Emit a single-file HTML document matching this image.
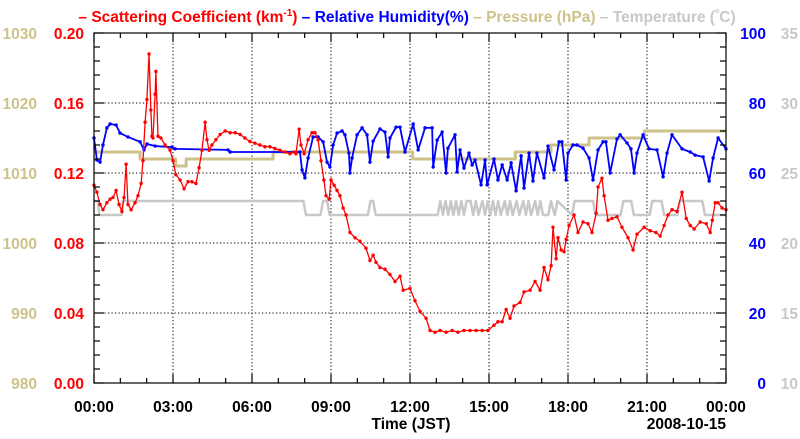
<!DOCTYPE html>
<html><head><meta charset="utf-8"><style>
body{margin:0;background:#fff;}
svg text{font-family:"Liberation Sans",sans-serif;font-weight:bold;}
</style></head><body>
<svg id="chart" width="800" height="434" xmlns="http://www.w3.org/2000/svg">
<text x="407" y="22" text-anchor="middle" font-size="15.5"><tspan fill="#ff0000">– Scattering Coefficient (km<tspan dy="-6" font-size="10">-1</tspan><tspan dy="6">) </tspan></tspan><tspan fill="#0000ff">– Relative Humidity(%) </tspan><tspan fill="#cdc38a">– Pressure (hPa) </tspan><tspan fill="#c8c8c8">– Temperature (<tspan dy="-9" font-size="7">o</tspan><tspan dy="9">C)</tspan></tspan></text>
<g id="grid"></g>
<g id="series"></g>
<rect x="94" y="33" width="632" height="350" fill="none" stroke="#000" stroke-width="1.2"/>
<g id="axes"></g>
<text x="411" y="429" text-anchor="middle" font-size="15.5">Time (JST)</text>
<text x="726" y="429" text-anchor="end" font-size="15.5">2008-10-15</text>
</svg>
<script>
const xTickLabels=["00:00","03:00","06:00","09:00","12:00","15:00","18:00","21:00","00:00"];
const scatTicks=["0.00","0.04","0.08","0.12","0.16","0.20"];
const presTicks=["980","990","1000","1010","1020","1030"];
const rhTicks=["0","20","40","60","80","100"];
const tempTicks=["10","15","20","25","30","35"];

const scatT=[0,.11,.23,.34,.49,.61,.72,.84,.95,1.06,1.14,1.22,1.29,1.41,1.56,1.67,1.79,1.86,1.94,2.01,2.09,2.16,2.20,2.24,2.32,2.35,2.43,2.54,2.70,2.89,3.00,3.11,3.27,3.42,3.57,3.72,3.87,3.99,4.10,4.22,4.29,4.37,4.48,4.63,4.79,4.98,5.17,5.36,5.55,5.73,5.92,6.11,6.30,6.49,6.68,6.87,7.06,7.25,7.44,7.60,7.67,7.79,7.86,7.98,8.13,8.28,8.39,8.51,8.62,8.73,8.81,8.93,9.00,9.12,9.23,9.34,9.46,9.57,9.72,9.91,10.10,10.33,10.48,10.60,10.71,10.86,11.05,11.24,11.43,11.62,11.74,12.00,12.19,12.38,12.61,12.76,12.95,13.14,13.37,13.60,13.82,14.05,14.28,14.51,14.74,14.96,15.19,15.34,15.50,15.65,15.80,15.95,16.18,16.33,16.56,16.75,16.94,17.09,17.24,17.36,17.43,17.55,17.62,17.74,17.85,17.93,18.04,18.23,18.38,18.57,18.76,18.91,19.07,19.14,19.29,19.37,19.52,19.67,19.86,20.05,20.28,20.47,20.62,20.89,21.12,21.34,21.50,21.65,21.80,21.95,22.14,22.33,22.49,22.64,22.79,23.02,23.25,23.40,23.48,23.59,23.70,23.85,24];
const scatV=[.113,.109,.102,.099,.103,.105,.106,.110,.102,.098,.106,.125,.102,.099,.103,.107,.114,.127,.149,.162,.188,.156,.141,.140,.165,.178,.141,.140,.136,.133,.127,.119,.116,.111,.115,.115,.114,.123,.133,.149,.139,.133,.136,.139,.142,.144,.143,.143,.142,.140,.138,.137,.136,.135,.135,.134,.133,.132,.131,.132,.131,.145,.136,.131,.139,.143,.143,.139,.127,.116,.107,.105,.116,.113,.110,.107,.100,.096,.086,.083,.081,.077,.070,.073,.069,.066,.065,.062,.058,.061,.053,.054,.047,.041,.037,.030,.029,.030,.029,.030,.029,.030,.030,.030,.030,.030,.033,.035,.035,.042,.037,.044,.046,.052,.053,.058,.053,.066,.059,.067,.089,.071,.083,.076,.075,.082,.090,.096,.086,.092,.091,.086,.097,.112,.117,.107,.093,.094,.095,.089,.083,.076,.085,.089,.087,.086,.084,.090,.096,.099,.098,.109,.094,.090,.088,.092,.091,.086,.093,.103,.103,.100,.099];

const rhT=[0,.11,.23,.34,.49,.61,.84,.99,1.29,1.75,1.90,2.01,2.32,2.96,3.08,5.09,5.17,7.82,7.90,8.01,8.13,8.32,8.51,8.70,8.85,8.96,9.08,9.23,9.42,9.53,9.68,9.72,9.80,9.99,10.18,10.37,10.48,10.60,10.86,11.05,11.17,11.24,11.47,11.62,11.81,12.12,12.31,12.57,12.84,12.88,13.03,13.22,13.37,13.44,13.71,13.79,13.90,14.05,14.24,14.36,14.47,14.70,14.85,14.93,15.19,15.34,15.50,15.69,15.84,16.03,16.22,16.33,16.52,16.67,16.82,17.09,17.24,17.47,17.66,17.77,17.93,18.00,18.19,18.34,18.57,18.80,18.95,19.14,19.33,19.44,19.60,19.86,19.98,20.24,20.39,20.51,20.62,20.85,21.08,21.38,21.61,21.76,21.95,22.33,22.64,22.83,23.13,23.36,23.51,23.70,24];
const rhV=[70.0,63.7,63.1,68.0,72.9,74.0,73.7,71.4,70.3,68.9,66.6,68.3,67.7,67.4,66.9,66.6,66.0,66.0,60.9,58.6,64.3,70.3,70.3,68.9,63.1,61.7,68.0,71.4,72.0,70.9,65.7,60.0,64.3,70.9,72.9,70.9,63.1,69.1,72.6,71.7,64.6,70.0,73.1,73.1,66.0,74.0,66.6,72.9,72.9,61.7,69.4,71.7,60.0,67.1,70.9,60.3,66.6,61.4,65.7,62.3,63.7,56.6,63.7,56.6,64.0,58.0,62.3,58.0,62.9,54.9,64.9,55.7,65.7,57.7,65.7,58.6,67.7,60.9,68.9,68.9,58.0,65.7,68.0,68.0,67.1,64.3,58.0,66.6,68.9,68.9,60.0,69.7,70.9,68.6,66.9,60.0,65.7,70.9,66.9,66.6,58.9,65.7,70.9,66.9,66.0,65.1,64.6,57.7,64.3,70.0,66.9];

const presT=[0,1.75,3.1,3.5,6.8,12.1,16.0,17.35,18.8,20.9,24];
const presV=[1013,1012,1011,1012,1013,1012,1013,1014,1015,1016,1016];

const tempT=[0,.15,.2,1.05,1.1,7.95,8.05,8.6,8.7,8.85,8.95,10.4,10.5,10.6,10.7,13.05,13.15,13.25,13.35,13.45,13.55,13.65,13.75,13.85,13.95,14.05,14.15,14.3,14.4,14.5,14.6,14.75,14.85,14.95,15.05,15.15,15.25,15.35,15.45,15.6,15.7,15.8,15.9,16.05,16.15,16.3,16.4,16.5,16.6,16.75,16.85,16.95,17.05,17.25,17.35,17.5,17.6,18.15,18.25,18.95,19.05,20.0,20.1,20.4,20.5,21.1,21.2,21.55,21.65,22.15,22.25,23.1,23.2,24];
const tempV=[23,23,22,22,23,23,22,22,23,23,22,22,23,23,22,22,23,22,23,22,23,22,23,22,23,22,23,23,22,23,22,23,22,23,22,23,22,23,22,23,22,23,22,23,22,23,22,23,22,23,22,23,22,22,23,22,23,22,23,23,22,22,23,23,22,22,23,23,22,22,23,23,22,22];

const L=94,R=726,T=33,B=383;
const xs=h=>L+(R-L)*h/24;
const yScat=v=>B-(B-T)*v/0.2;
const yRH=v=>B-(B-T)*v/100;
const yPres=v=>B-(B-T)*(v-980)/50;
const yTemp=v=>B-(B-T)*(v-10)/25;
const NS="http://www.w3.org/2000/svg";
function mk(tag,attrs,parent){const e=document.createElementNS(NS,tag);for(const k in attrs)e.setAttribute(k,attrs[k]);parent.appendChild(e);return e;}
const grid=document.getElementById('grid'),axes=document.getElementById('axes'),ser=document.getElementById('series');

for(let i=1;i<8;i++){const x=xs(i*3);
 const g=mk('line',{x1:x,x2:x,y1:T,y2:B,stroke:'#000','stroke-width':1,'stroke-dasharray':'1.2,2.3'},grid);
 
 }
for(let i=1;i<5;i++){const y=yScat(i*0.04);
 const g=mk('line',{x1:L,x2:R,y1:y,y2:y,stroke:'#000','stroke-width':1,'stroke-dasharray':'1.2,2.3'},grid);
 
 }

for(let i=0;i<=24;i++){const x=xs(i);const len=i%3==0?9:5;
 const t=mk('line',{x1:x,x2:x,y1:B,y2:B-len,stroke:'#000','stroke-width':1.2},axes);
 
 
 const t2=mk('line',{x1:x,x2:x,y1:T,y2:T+len,stroke:'#000','stroke-width':1.2},axes);
 
 }
for(let i=0;i<=25;i++){const y=B-(B-T)*i/25;const len=i%5==0?10:6;
 const a=mk('line',{x1:L,x2:L+len,y1:y,y2:y,stroke:'#000','stroke-width':1.2},axes);
 
 
 const b=mk('line',{x1:R,x2:R-len,y1:y,y2:y,stroke:'#000','stroke-width':1.2},axes);
 
 }
xTickLabels.forEach((s,i)=>{const t=mk('text',{x:xs(i*3),y:412,'text-anchor':'middle','font-size':15.5,fill:'#000'},axes);t.textContent=s;
 
 });
function ylab(arr,x,anchor,color,name){arr.forEach((s,i)=>{const y=B-(B-T)*i/5+6;const t=mk('text',{x:x,y:y,'text-anchor':anchor,'font-size':15.5,fill:color},axes);t.textContent=s;
 
 });}
ylab(scatTicks,84,'end','#ff0000','scattering-tick-label');
ylab(presTicks,37,'end','#cdc38a','pressure-tick-label');
ylab(rhTicks,766,'end','#0000ff','humidity-tick-label');
ylab(tempTicks,798,'end','#c8c8c8','temperature-tick-label');

function line(ts,vs,ys,color,w,step,name,dots){let d='';
 for(let i=0;i<ts.length;i++){const x=xs(ts[i]),y=ys(vs[i]);
  if(i==0)d='M'+x+','+y;else if(step)d+=' H'+x+' V'+y;else d+=' L'+x+','+y;}
 const p=mk('path',{d:d,fill:'none',stroke:color,'stroke-width':w,'stroke-linejoin':'round'},ser);
 
 
 if(dots){for(let i=0;i<ts.length;i++){const c=mk('circle',{cx:xs(ts[i]),cy:ys(vs[i]),r:1.7,fill:color},ser);
  
  }}}
line(tempT,tempV,yTemp,'#c8c8c8',2.5,false,'temperature-line',false);
line(presT,presV,yPres,'#cdc38a',3,true,'pressure-line',false);
line(rhT,rhV,yRH,'#0000ff',1.8,false,'humidity-line',true);
line(scatT,scatV,yScat,'#ff0000',1.3,false,'scattering-line',true);
</script>
</body></html>
